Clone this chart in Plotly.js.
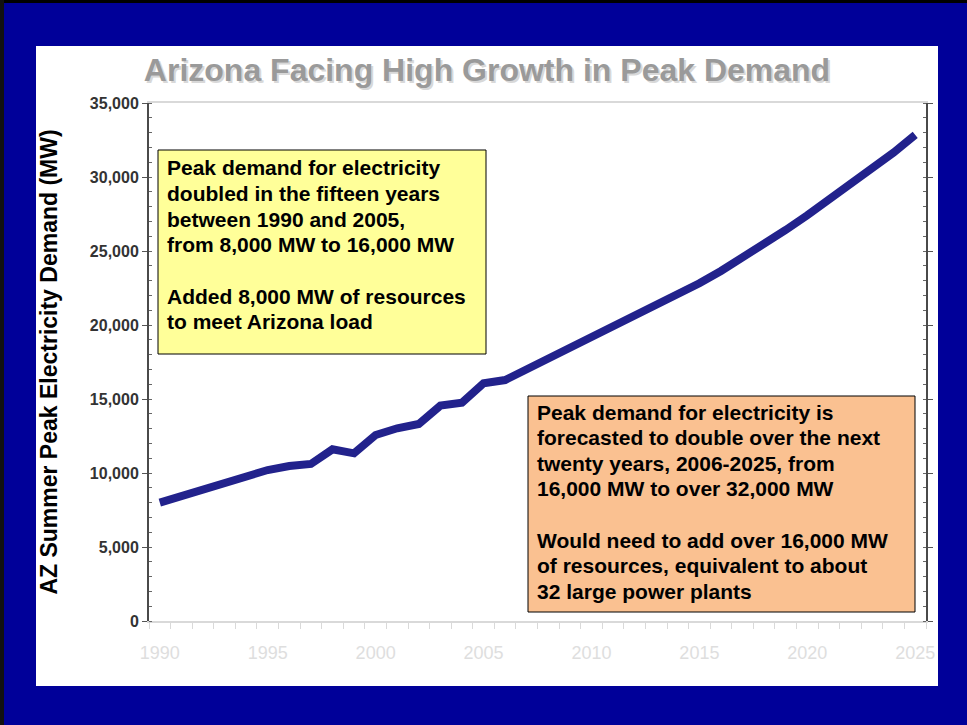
<!DOCTYPE html>
<html>
<head>
<meta charset="utf-8">
<script src="https://cdn.plot.ly/plotly-3.0.1.min.js"></script>
<style>
  html, body { margin: 0; padding: 0; width: 967px; height: 725px; overflow: hidden; background: #000099; }
  #topbar { position: absolute; left: 0; top: 0; width: 967px; height: 3px; background: #000000; }
  #leftbar { position: absolute; left: 0; top: 0; width: 4px; height: 725px; background: #111111; }
  #chart { position: absolute; left: 36px; top: 46px; width: 902px; height: 640px; }
</style>
</head>
<body>
<div id="topbar"></div>
<div id="leftbar"></div>
<div id="chart"></div>
<script>
// ---- data ----
const years = [1990, 1991, 1992, 1993, 1994, 1995, 1996, 1997, 1998, 1999,
               2000, 2001, 2002, 2003, 2004, 2005, 2006, 2007, 2008, 2009,
               2010, 2011, 2012, 2013, 2014, 2015, 2016, 2017, 2018, 2019,
               2020, 2021, 2022, 2023, 2024, 2025];
const demandMW = [8000, 8450, 8850, 9240, 9700, 10200, 10470, 10610, 11600, 11330,
                  12570, 13020, 13310, 14550, 14750, 16060, 16280, 17010, 17730, 18420,
                  19120, 19850, 20560, 21280, 22050, 22820, 23650, 24550, 25480, 26420,
                  27410, 28450, 29460, 30520, 31650, 32840];
const xTickVals = [1990, 1995, 2000, 2005, 2010, 2015, 2020, 2025];
const xTickText = ["1990", "1995", "2000", "2005", "2010", "2015", "2020", "2025"];
const yTickVals = [0, 5000, 10000, 15000, 20000, 25000, 30000, 35000];
const yTickText = ["0", "5,000", "10,000", "15,000", "20,000", "25,000", "30,000", "35,000"];

const chartTitle = "Arizona Facing High Growth in Peak Demand";
const yTitle = "AZ Summer Peak Electricity Demand (MW)";
const box1Lines = [
  "Peak demand for electricity",
  "doubled in the fifteen years",
  "between 1990 and 2005,",
  "from 8,000 MW to 16,000 MW",
  "",
  "Added 8,000 MW of resources",
  "to meet Arizona load"
];
const box2Lines = [
  "Peak demand for electricity is",
  "forecasted to double over the next",
  "twenty years, 2006-2025, from",
  "16,000 MW to over 32,000 MW",
  "",
  "Would need to add over 16,000 MW",
  "of resources, equivalent to about",
  "32 large power plants"
];

// ---- layout helpers (page pixel -> paper coords) ----
const PL = 149, PR = 926, PT = 103, PB = 621;
const px = X => (X - PL) / (PR - PL);
const py = Y => (PB - Y) / (PB - PT);
const FONT = "Arial, 'Liberation Sans', sans-serif";

function boxText(lines, left, firstY, step) {
  const out = [];
  lines.forEach((t, i) => {
    if (!t) return;
    out.push({
      xref: 'paper', yref: 'paper', x: px(left), y: py(firstY + i * step),
      xanchor: 'left', yanchor: 'middle', showarrow: false, align: 'left',
      text: '<b>' + t + '</b>',
      font: {family: FONT, size: 21, color: '#000000'}
    });
  });
  return out;
}

const trace = {
  x: years, y: demandMW, type: 'scatter', mode: 'lines',
  line: {color: '#22228c', width: 8},
  hoverinfo: 'x+y', showlegend: false
};

const layout = {
  width: 902, height: 640,
  margin: {l: PL - 36, r: 938 - PR, t: PT - 46, b: 686 - PB},
  paper_bgcolor: '#ffffff', plot_bgcolor: '#ffffff',
  title: {
    text: '<b>' + chartTitle + '</b>',
    font: {family: FONT, size: 32, color: '#9a9a9a', shadow: '2px 2px 0px #d8d8d8'},
    xref: 'container', x: 0.5, xanchor: 'center',
    yref: 'container', y: 1 - 24 / 640, yanchor: 'middle'
  },
  xaxis: {
    range: [1989.5, 2025.5],
    tickvals: xTickVals, ticktext: xTickText,
    ticks: '',
    ticklabelstandoff: 14,
    minor: {tick0: 1989.5, dtick: 1, ticks: 'outside', ticklen: 6, tickcolor: '#d9d9d9', tickwidth: 1, showgrid: false},
    showline: true, linecolor: '#d9d9d9', linewidth: 2, mirror: true,
    showgrid: false, zeroline: false,
    tickfont: {family: "'Liberation Sans Narrow', 'Arial Narrow', " + FONT, size: 18, color: '#dedede'}
  },
  yaxis: {
    range: [0, 35000],
    tickvals: yTickVals, ticktext: yTickText.map(t => '<b>' + t + '</b>'),
    ticks: 'outside', ticklen: 5, tickcolor: '#555555', tickwidth: 1,
    minor: {dtick: 1000, ticks: 'inside', ticklen: 3, tickcolor: '#666666', showgrid: false},
    showline: true, linecolor: '#4a4a4a', linewidth: 2, mirror: 'ticks',
    showgrid: false, zeroline: false,
    tickfont: {family: FONT, size: 16, color: '#333333'},
    title: {
      text: '<b>' + yTitle + '</b>',
      font: {family: FONT, size: 23, color: '#000000'},
      standoff: 26
    }
  },
  shapes: [
    {type: 'rect', xref: 'paper', yref: 'paper',
     x0: px(158), x1: px(486), y0: py(354), y1: py(150),
     fillcolor: '#ffff99', line: {color: '#000000', width: 1}, layer: 'below'},
    {type: 'rect', xref: 'paper', yref: 'paper',
     x0: px(528), x1: px(915), y0: py(612), y1: py(396),
     fillcolor: '#fac191', line: {color: '#000000', width: 1}, layer: 'below'}
  ],
  annotations: [].concat(
    boxText(box1Lines, 165, 168, 25.6),
    boxText(box2Lines, 535, 412, 25.6)
  )
};

Plotly.newPlot('chart', [trace], layout, {displayModeBar: false, staticPlot: true});
</script>
</body>
</html>
